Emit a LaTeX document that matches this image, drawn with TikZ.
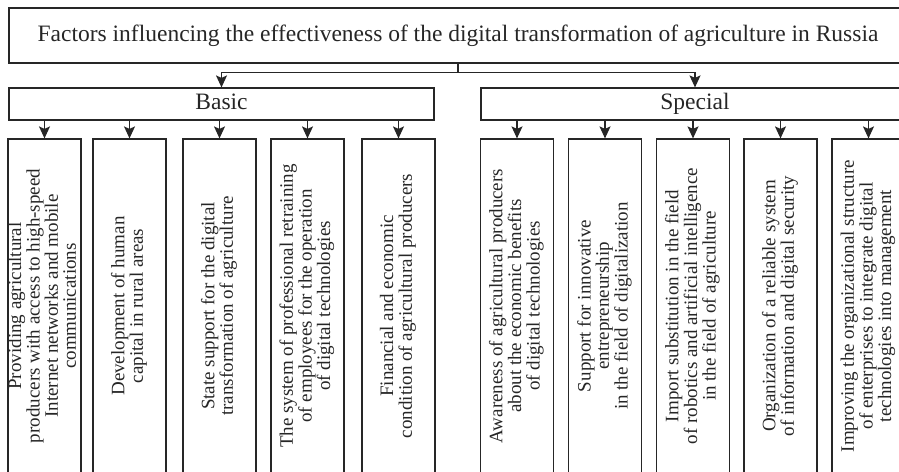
\documentclass[tikz,border=0pt]{standalone}
\usepackage{fontspec}
\setmainfont{Liberation Serif}
\usetikzlibrary{arrows.meta}
\definecolor{ink}{HTML}{262626}
\begin{document}
\begin{tikzpicture}[x=1pt,y=-1pt,
  boxline/.style={draw=ink, line width=1.2pt},
  topbox/.style={boxline, text=ink, minimum width=898pt, minimum height=55pt, inner sep=0pt, text height=16pt, text depth=5pt, font=\fontsize{23.5}{26}\selectfont},
  grpbox/.style={boxline, text=ink, minimum height=32pt, inner sep=0pt, text height=16pt, text depth=5pt, font=\fontsize{23.5}{26}\selectfont},
  itembox/.style={boxline, text=ink, minimum width=73pt, minimum height=334pt, inner sep=0pt, font=\fontsize{19}{17.5}\selectfont},
  arr/.style={draw=ink, line width=1.2pt, -{Stealth[length=12pt,width=11pt,inset=2.5pt]}}]
\useasboundingbox (0,0) rectangle (899,471);
\newcommand{\vtext}[1]{\rotatebox{90}{\begin{tabular}{@{}c@{}}#1\end{tabular}}}
\node[topbox] (title) at (458,35.5) {Factors influencing the effectiveness of the digital transformation of agriculture in Russia};
\node[grpbox, minimum width=425pt] (basic) at (221.5,104) {Basic};
\node[grpbox, minimum width=428pt] (special) at (695,104) {Special};
\node[itembox] (b1) at (44.5,306) {\vtext{Providing agricultural\\producers with access to high-speed\\Internet networks and mobile\\communications}};
\node[itembox] (b2) at (129.5,306) {\vtext{Development of human\\capital in rural areas}};
\node[itembox] (b3) at (219.5,306) {\vtext{State support for the digital\\transformation of agriculture}};
\node[itembox] (b4) at (307.5,306) {\vtext{The system of professional retraining\\of employees for the operation\\of digital technologies}};
\node[itembox] (b5) at (398.5,306) {\vtext{Financial and economic\\condition of agricultural producers}};
\node[itembox] (s1) at (517,306) {\vtext{Awareness of agricultural producers\\about the economic benefits\\of digital technologies}};
\node[itembox] (s2) at (605,306) {\vtext{Support for innovative\\entrepreneurship\\in the field of digitalization}};
\node[itembox] (s3) at (693,306) {\vtext{Import substitution in the field\\of robotics and artificial intelligence\\in the field of agriculture}};
\node[itembox] (s4) at (780.5,306) {\vtext{Organization of a reliable system\\of information and digital security}};
\node[itembox] (s5) at (868.5,306) {\vtext{Improving the organizational structure\\of enterprises to integrate digital\\technologies into management}};
\draw[boxline] (title.south) -- ++(0,9) coordinate (j);
\draw[arr] (j) -| (basic.north);
\draw[arr] (j) -| (special.north);
\foreach \b in {b1,b2,b3,b4,b5} \draw[arr] (\b.north |- basic.south) -- (\b.north);
\foreach \b in {s1,s2,s3,s4,s5} \draw[arr] (\b.north |- special.south) -- (\b.north);
\end{tikzpicture}
\end{document}
